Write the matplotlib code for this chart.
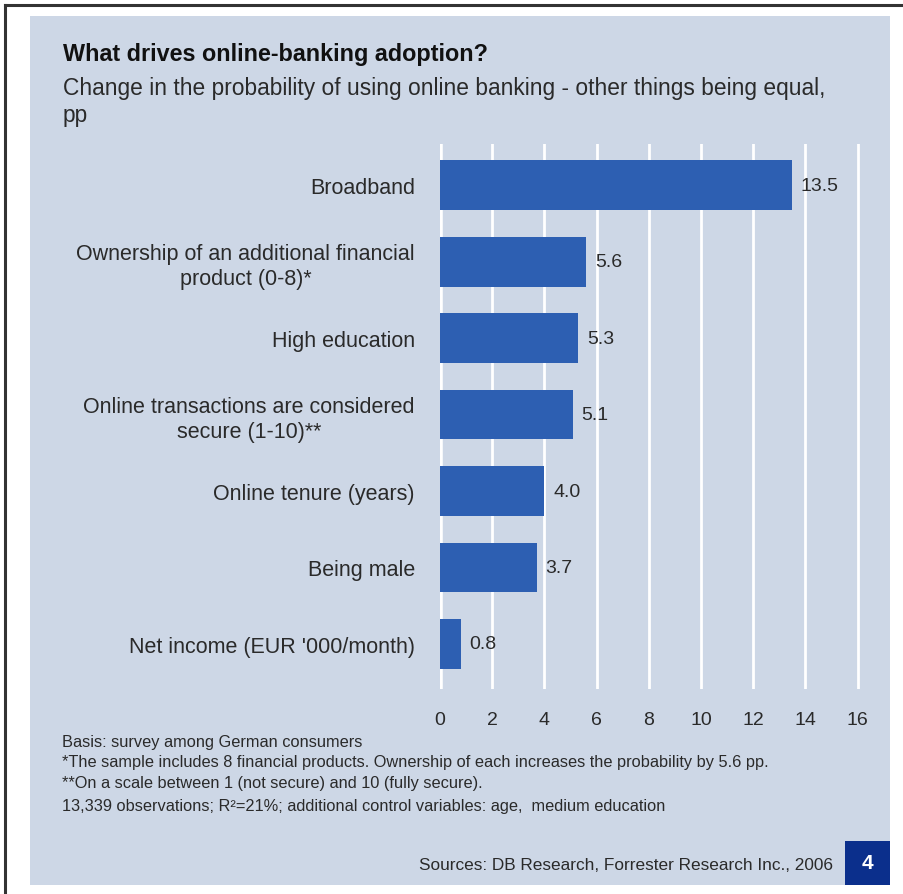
import matplotlib.pyplot as plt
from matplotlib.patches import Rectangle

plt.rcParams['font.family'] = ['Liberation Sans', 'DejaVu Sans']

# Chart data
factors = [
    "Broadband",
    "Ownership of an additional financial\nproduct (0-8)*",
    "High education",
    "Online transactions are considered\nsecure (1-10)**",
    "Online tenure (years)",
    "Being male",
    "Net income (EUR '000/month)",
]
effects = [13.5, 5.6, 5.3, 5.1, 4.0, 3.7, 0.8]
ticks = [0, 2, 4, 6, 8, 10, 12, 14, 16]

title = "What drives online-banking adoption?"
subtitle = "Change in the probability of using online banking - other things being equal,\npp"
notes = [
    "Basis: survey among German consumers",
    "*The sample includes 8 financial products. Ownership of each increases the probability by 5.6 pp.",
    "**On a scale between 1 (not secure) and 10 (fully secure).",
    "13,339 observations; R\u00b2=21%; additional control variables: age,  medium education",
]
source = "Sources: DB Research, Forrester Research Inc., 2006"
chart_no = "4"

W, H = 904, 895
panel_col = "#cdd7e6"
bar_col = "#2d5fb2"
text_col = "#2a2a2a"

fig = plt.figure(figsize=(W / 100, H / 100), dpi=100)
fig.patch.set_facecolor("white")

def fx(px):
    return px / W

def fy(py):
    return 1 - py / H

# background panel, frame and chart number box on a full-figure axes
bg = fig.add_axes([0, 0, 1, 1], zorder=-1)
bg.set_xlim(0, W)
bg.set_ylim(H, 0)
bg.axis("off")
bg.add_patch(Rectangle((30, 17), 860, 869, facecolor=panel_col, edgecolor="none"))
bg.add_patch(Rectangle((845, 842), 45, 44, facecolor="#0b2f8c", edgecolor="none"))
bg.plot([5.5, 5.5], [H, 5.5], color="#333333", lw=2.2)
bg.plot([5.5, W], [5.5, 5.5], color="#333333", lw=2.2)

# bar axes
ax = fig.add_axes([fx(440), fy(690), 16.3 * 26.1 / W, 545 / H])
ax.set_facecolor("none")
y = list(range(len(factors)))
ax.barh(y, effects, height=0.65, color=bar_col, zorder=3)
ax.set_xlim(0, 16.3)
ax.set_ylim(6.59, -0.54)
ax.set_xticks(ticks)
ax.set_xticklabels([str(t) for t in ticks], fontsize=14, color=text_col)
ax.set_yticks(y)
ax.set_yticklabels(factors, fontsize=15.5, color=text_col, ha="right",
                   multialignment="center", linespacing=1.25)
ax.tick_params(axis="x", length=0, pad=16)
ax.tick_params(axis="y", length=0, pad=18)
for t in ticks[1:]:
    ax.axvline(t, color="white", lw=2, zorder=1)
ax.axvline(0, color="white", lw=4, zorder=2)
for s in ax.spines.values():
    s.set_visible(False)

for yi, v in zip(y, effects):
    ax.text(v + 0.33, yi, f"{v:.1f}", va="center", ha="left", fontsize=14,
            color=text_col)

# titles
fig.text(fx(63), fy(55), title, fontsize=16.8, fontweight="bold", color="#111111",
         va="center", ha="left")
fig.text(fx(63), fy(77), subtitle, fontsize=16.4, color=text_col, va="top",
         ha="left", linespacing=1.2)

# footnotes
for py, n in zip([743, 763, 784, 806], notes):
    fig.text(fx(62), fy(py), n, fontsize=11.8, color=text_col,
             va="center", ha="left")

fig.text(fx(833), fy(866), source, fontsize=12.4, color=text_col, va="center", ha="right")
fig.text(fx(867.5), fy(864), chart_no, fontsize=15, fontweight="bold", color="white",
         va="center", ha="center")

fig.savefig("out.png", dpi=100)
